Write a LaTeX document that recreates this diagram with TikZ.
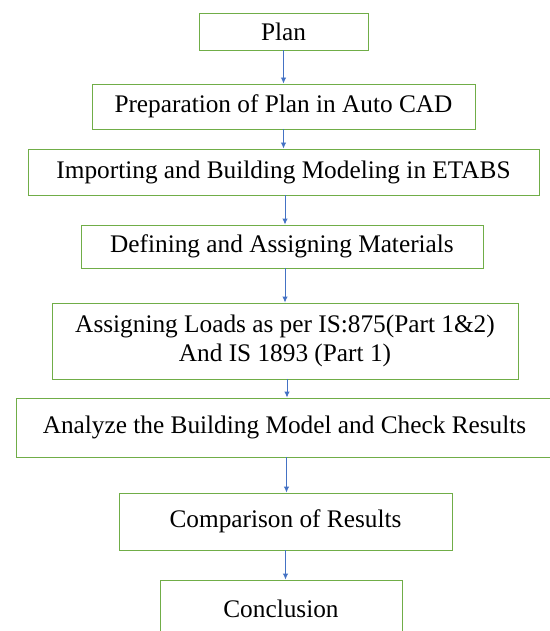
\documentclass[tikz,border=0pt]{standalone}
\usepackage{fontspec}
\setmainfont{Liberation Serif}
\usetikzlibrary{arrows.meta}
\definecolor{boxgreen}{RGB}{112,173,71}
\definecolor{arrowblue}{RGB}{68,114,196}

\begin{document}
\begin{tikzpicture}[x=1pt,y=-1pt]
        \tikzset{stepbox/.style = {shape=rectangle,draw=boxgreen,line width=0.9pt,inner sep=0pt,align=center,font=\fontsize{25.3}{29}\selectfont}}
        \tikzset{flow/.style = {-{Latex[length=6pt,width=5.5pt]},draw=arrowblue,line width=0.9pt}}

        \useasboundingbox (0, 0) rectangle (549, 631);

        \node[stepbox, minimum width=169, minimum height=37] (plan) at (283.5, 31.5) {Plan};
        \node[stepbox, minimum width=383, minimum height=45] (cad) at (283.5, 106.5) {Preparation of Plan in Auto CAD};
        \node[stepbox, minimum width=511, minimum height=46] (etabs) at (283.5, 172) {Importing and Building Modeling in ETABS};
        \node[stepbox, minimum width=402, minimum height=43] (mat) at (282, 246.5) {Defining and Assigning Materials};
        \node[stepbox, minimum width=466, minimum height=76] (loads) at (285, 341) {Assigning Loads as per IS:875(Part 1\&2)\\And IS 1893 (Part 1)};
        \node[stepbox, minimum width=537, minimum height=59] (analyze) at (284.5, 427.5) {Analyze the Building Model and Check Results};
        \node[stepbox, minimum width=333, minimum height=57] (compare) at (285.5, 521.5) {Comparison of Results};
        \node[stepbox, minimum width=242, minimum height=58] (concl) at (281, 609) {Conclusion};

        \draw[flow] (plan.south) -- (plan.south |- cad.north);
        \draw[flow] (cad.south) -- (cad.south |- etabs.north);
        \draw[flow] ([xshift=1.5pt]etabs.south) -- ([xshift=1.5pt]etabs.south |- mat.north);
        \draw[flow] ([xshift=3pt]mat.south) -- ([xshift=3pt]mat.south |- loads.north);
        \draw[flow] ([xshift=2pt]loads.south) -- ([xshift=2pt]loads.south |- analyze.north);
        \draw[flow] ([xshift=2pt]analyze.south) -- ([xshift=2pt]analyze.south |- compare.north);
        \draw[flow] (compare.south) -- (compare.south |- concl.north);
    \end{tikzpicture}
\end{document}
